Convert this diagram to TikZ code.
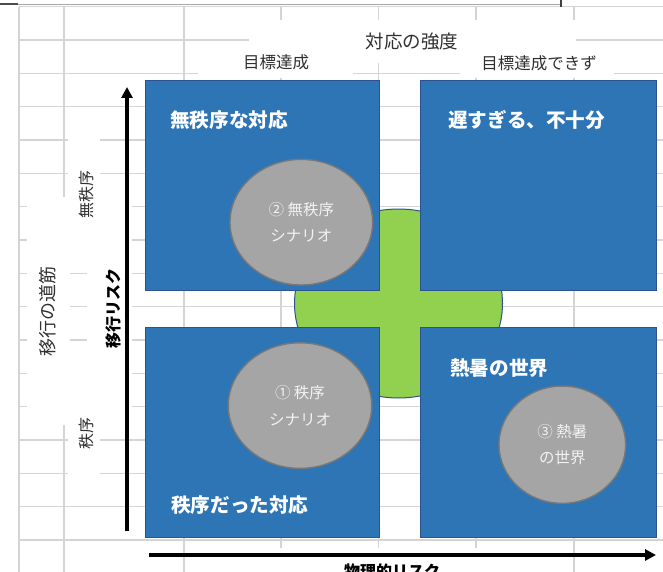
\documentclass[tikz,border=0pt]{standalone}
\usepackage{fontspec}
\setmainfont{Noto Sans CJK JP}
\usetikzlibrary{arrows.meta,shapes.geometric}
\definecolor{gridc}{HTML}{D4D4D4}
\definecolor{boxblue}{HTML}{2E75B6}
\definecolor{boxedge}{HTML}{2F528F}
\definecolor{crossgreen}{HTML}{92D050}
\definecolor{circfill}{HTML}{A5A5A5}
\definecolor{circedge}{HTML}{787878}
\definecolor{labelc}{HTML}{303030}
\definecolor{circtext}{HTML}{F2F2F2}
\tikzset{
  gridline/.style={draw=gridc, line width=1.4pt},
  quadbox/.style={rectangle, fill=boxblue, draw=boxedge, line width=1pt, anchor=north west, inner sep=0pt},
  scen/.style={ellipse, fill=circfill, draw=circedge, line width=1.4pt, inner sep=0pt, align=center,
    text=circtext, font=\fontsize{15.5}{26.7}\selectfont},
  qtitle/.style={anchor=west, text=white, font=\fontsize{19.6}{22}\selectfont\bfseries, inner sep=0pt},
  toplabel/.style={text=labelc, inner sep=0pt},
  axisarrow/.style={line width=3.2pt, -{Triangle[length=11pt,width=11pt]}}
}
\begin{document}
\begin{tikzpicture}[x=1pt,y=-1pt]
\useasboundingbox (0,0) rectangle (663,572);
\clip (0,0) rectangle (663,572);
\fill[white] (0,0) rectangle (663,572);
% spreadsheet grid
\foreach \x in {19,64,184,281,378.5,476,574}
  \draw[gridline] (\x,6.7) -- (\x,572);
\foreach \k [evaluate=\k as \yy using 6.7+33.333*\k] in {0,...,16}
  \draw[gridline] (19,\yy) -- (663,\yy);
% frame at the top
\draw[draw=gray!70, line width=1.5pt] (0,4.5) -- (561,4.5);
\draw[draw=black!70, line width=2pt] (0,4.5) -- (18,4.5);
\draw[draw=black!75, line width=2pt] (561,0) -- (561,7);
% white text boxes hiding the grid
\fill[white] (249,20) rectangle (576,63);
\fill[white] (198,55) rectangle (353,78);
\fill[white] (460,57) rectangle (614,78);
\fill[white] (68,125) rectangle (100,260);
\fill[white] (68,355) rectangle (100,490);
\fill[white] (27,197) rectangle (70,425);
\fill[white] (87,190) rectangle (132,425);
\fill[white] (247,548) rectangle (540,575);
% labels
\node[toplabel, font=\fontsize{18.5}{20}\selectfont] (strength) at (412,42) {対応の強度};
\node[toplabel, font=\fontsize{16.5}{18}\selectfont] (achieved) at (276,62) {目標達成};
\node[toplabel, font=\fontsize{16.5}{18}\selectfont] (notachieved) at (539,63) {目標達成できず};
\node[toplabel, rotate=90, font=\fontsize{16}{18}\selectfont] (disorder) at (86,194) {無秩序};
\node[toplabel, rotate=90, font=\fontsize{16}{18}\selectfont] (order) at (86,433) {秩序};
\node[toplabel, rotate=90, font=\fontsize{18}{20}\selectfont] (path) at (48,311) {移行の道筋};
\node[inner sep=0pt, rotate=90, font=\fontsize{16}{18}\selectfont\bfseries] (transrisk) at (113,308) {移行リスク};
\node[inner sep=0pt, font=\fontsize{16}{18}\selectfont\bfseries] (physrisk) at (392,571) {物理的リスク};
% green cross
\node[ellipse, fill=crossgreen, draw=boxedge, line width=1pt, minimum width=208pt, minimum height=189pt] (cross) at (398.5,303.5) {};
% quadrants
\node[quadbox, minimum width=234pt, minimum height=210pt] (q1) at (145,80) {};
\node[quadbox, minimum width=236pt, minimum height=210pt] (q2) at (420,80) {};
\node[quadbox, minimum width=234pt, minimum height=210pt] (q3) at (145,327) {};
\node[quadbox, minimum width=236pt, minimum height=210pt] (q4) at (420,327) {};
\node[qtitle] (t1) at (170,120) {無秩序な対応};
\node[qtitle] (t2) at (448,120) {遅すぎる、不十分};
\node[qtitle] (t4) at (450,368) {熱暑の世界};
\node[qtitle] (t3) at (171,505) {秩序だった対応};
% scenarios
\node[scen, minimum width=142.6pt, minimum height=125.6pt] (s2) at (301.3,222.2) {② 無秩序\\シナリオ};
\node[scen, minimum width=143.4pt, minimum height=125.6pt] (s1) at (300,405.6) {① 秩序\\シナリオ};
\node[scen, minimum width=126.6pt, minimum height=117.3pt] (s3) at (562.3,444.7) {③ 熱暑\\の世界};
% axes
\coordinate (vaStart) at (127,531);
\coordinate (vaEnd) at (127,87);
\coordinate (haStart) at (149,555);
\coordinate (haEnd) at (656,555);
\draw[axisarrow] (vaStart) -- (vaEnd);
\draw[axisarrow] (haStart) -- (haEnd);
\end{tikzpicture}
\end{document}
